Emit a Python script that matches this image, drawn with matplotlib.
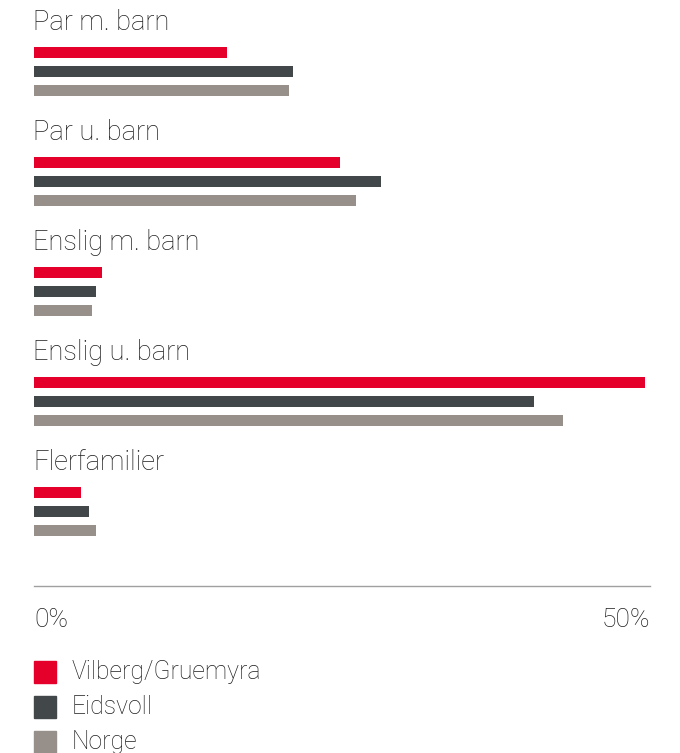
import matplotlib
matplotlib.use("Agg")
from matplotlib import pyplot as plt
from matplotlib.patches import Rectangle
import numpy as np

kategorier = ["Par m. barn", "Par u. barn", "Enslig m. barn", "Enslig u. barn", "Flerfamilier"]
serier = ["Vilberg/Gruemyra", "Eidsvoll", "Norge"]
vilberg = [15.7, 24.8, 5.5, 49.6, 3.8]
eidsvoll = [21.0, 28.2, 5.0, 40.6, 4.5]
norge = [20.7, 26.1, 4.7, 42.9, 5.0]
farger = ["#e4002b", "#42474a", "#968f8a"]
tick_vals = [0, 50]
tick_labels = ["0%", "50%"]

plt.rcParams['font.family'] = ['Roboto', 'DejaVu Sans']
W, H = 680, 753
fig = plt.figure(figsize=(W / 100, H / 100), dpi=100)

# akse i pikselenheter vertikalt (0 = toppen av figuren, 586 = aksen)
ax = fig.add_axes([34 / W, (H - 586) / H, 616 / W, 586 / H])
ax.set_xlim(0, 50)
ax.set_ylim(586, 0)

gruppe = 110
verdier = [vilberg, eidsvoll, norge]
for i, kat in enumerate(kategorier):
    base = i * gruppe
    ax.text(-0.05, base + 22, kat, fontsize=19.6, fontweight='light', color='#1e1e1e',
            va='center', ha='left')
    for j, v in enumerate(verdier):
        ax.barh(base + 52.5 + j * 19, v[i], height=11, color=farger[j], left=0)

for s in ['top', 'right', 'left']:
    ax.spines[s].set_visible(False)
ax.spines['bottom'].set_color('#a0a0a0')
ax.spines['bottom'].set_linewidth(1)
ax.set_yticks([])
ax.set_xticks(tick_vals)
ax.set_xticklabels(tick_labels)
ax.tick_params(axis='x', length=0, pad=16, labelsize=19, labelcolor='#1e1e1e')
lbls = ax.get_xticklabels()
lbls[0].set_ha('left')
lbls[-1].set_ha('right')
for l in lbls:
    l.set_fontweight('light')

# forklaring
for j, navn in enumerate(serier):
    y0 = 661 + j * 35
    fig.add_artist(Rectangle((34 / W, 1 - (y0 + 22) / H), 22 / W, 22 / H,
                             transform=fig.transFigure, color=farger[j]))
    fig.text(72 / W, 1 - (y0 + 11) / H, navn, fontsize=17.8, fontweight='light',
             color='#1e1e1e', va='center', ha='left')

fig.savefig("out.png", dpi=100)
